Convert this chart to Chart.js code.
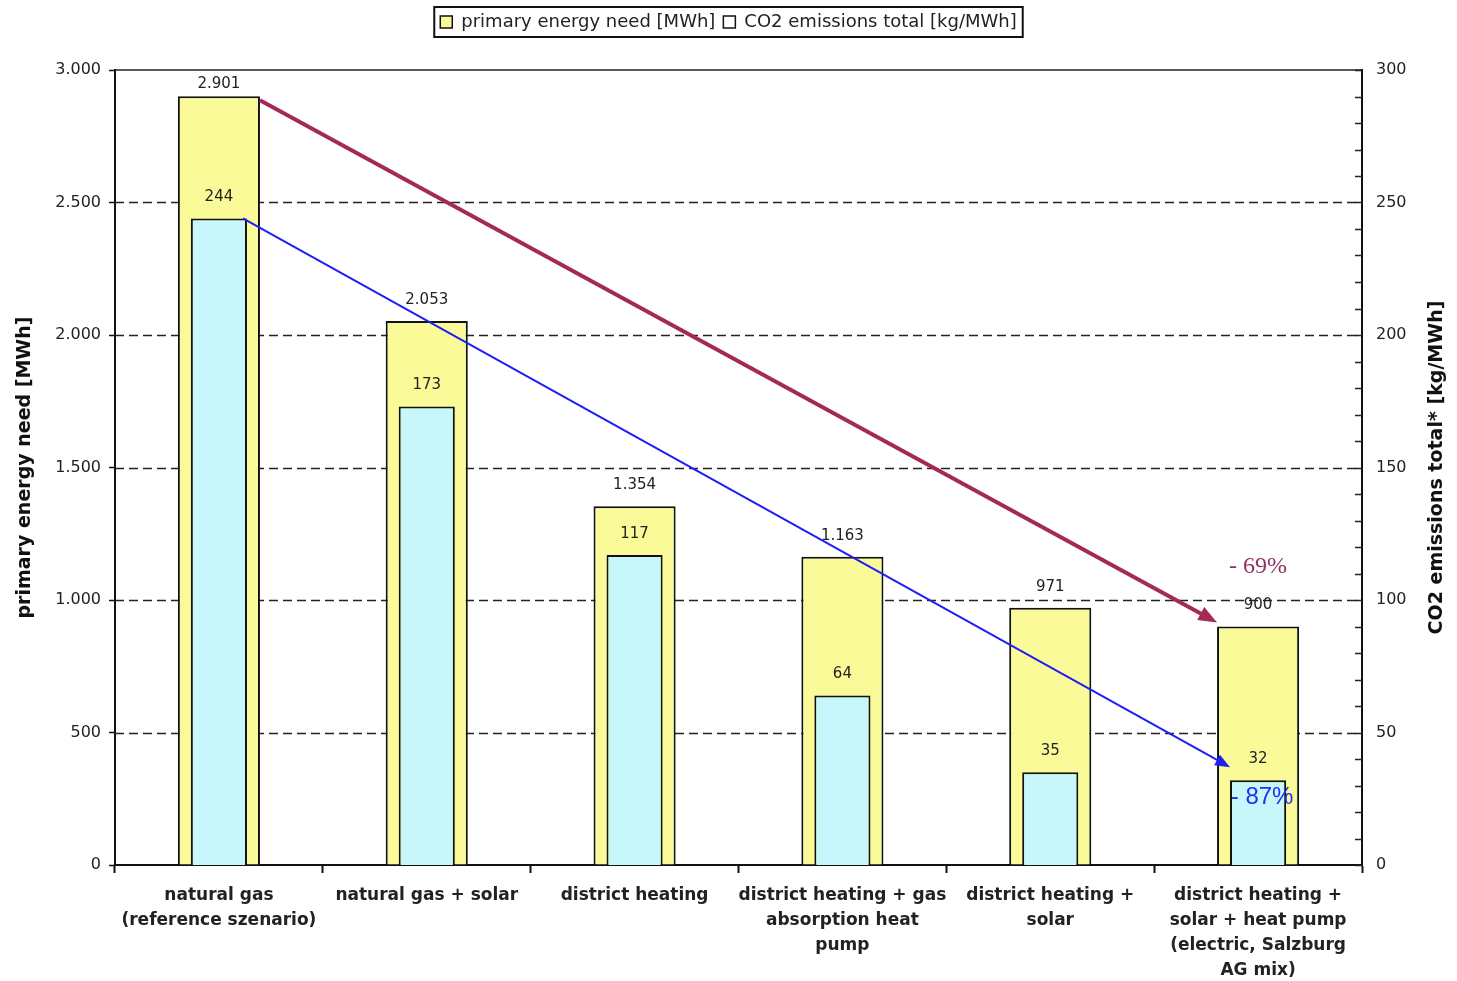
<!DOCTYPE html>
<html>
<head>
<meta charset="utf-8">
<script src="https://cdn.jsdelivr.net/npm/chart.js@4.4.0/dist/chart.umd.min.js"></script>
<style>
  body { margin: 0; background: #fff; }
  #grafica { display: block; }
</style>
</head>
<body>
<canvas id="grafica" width="1457" height="981"></canvas>
<script>
// datos de la grafica
var categorias = [
  ['natural gas', '(reference szenario)'],
  ['natural gas + solar'],
  ['district heating'],
  ['district heating + gas', 'absorption heat', 'pump'],
  ['district heating +', 'solar'],
  ['district heating +', 'solar + heat pump', '(electric, Salzburg', 'AG mix)']
]
var energia_primaria = [2901, 2053, 1354, 1163, 971, 900]
var emisiones_co2 = [244, 173, 117, 64, 35, 32]
var nombres_series = ['primary energy need [MWh]', 'CO2 emissions total [kg/MWh]']
var titulo_izq = 'primary energy need [MWh]'
var titulo_der = 'CO2 emissions total* [kg/MWh]'
var reduccion_energia = '- 69%'
var reduccion_co2 = '- 87%'

var fuente = '"DejaVu Sans", Verdana, sans-serif'

function formato_miles(v) {
  return String(v).replace(/\B(?=(\d{3})+(?!\d))/g, '.')
}

function flecha(ctx, x1, y1, x2, y2, color, ancho, punta) {
  var ang = Math.atan2(y2 - y1, x2 - x1)
  ctx.save()
  ctx.strokeStyle = color
  ctx.fillStyle = color
  ctx.lineWidth = ancho
  ctx.beginPath()
  ctx.moveTo(x1, y1)
  ctx.lineTo(x2 - Math.cos(ang) * punta * 0.8, y2 - Math.sin(ang) * punta * 0.8)
  ctx.stroke()
  ctx.beginPath()
  ctx.moveTo(x2, y2)
  ctx.lineTo(x2 - punta * Math.cos(ang - 0.38), y2 - punta * Math.sin(ang - 0.38))
  ctx.lineTo(x2 - punta * Math.cos(ang + 0.38), y2 - punta * Math.sin(ang + 0.38))
  ctx.closePath()
  ctx.fill()
  ctx.restore()
}

var plugin_lineas = {
  id: 'lineas',
  beforeDatasetsDraw: function (chart) {
    var ctx = chart.ctx, area = chart.chartArea, y = chart.scales.y
    ctx.save()
    ctx.strokeStyle = '#222'
    ctx.lineWidth = 1.5
    ctx.setLineDash([9, 5])
    y.ticks.forEach(function (t) {
      if (t.value <= y.min || t.value >= y.max) return
      var py = Math.round(y.getPixelForValue(t.value)) + 0.5
      ctx.beginPath()
      ctx.moveTo(area.left, py)
      ctx.lineTo(area.right, py)
      ctx.stroke()
    })
    ctx.restore()
  },
  afterDraw: function (chart) {
    var ctx = chart.ctx, area = chart.chartArea
    var y2 = chart.scales.y2
    ctx.save()
    // borde superior
    ctx.strokeStyle = '#222'
    ctx.lineWidth = 1.5
    ctx.beginPath()
    ctx.moveTo(area.left, area.top)
    ctx.lineTo(area.right, area.top)
    ctx.stroke()
    // marcas menores eje derecho, hacia dentro
    y2.ticks.forEach(function (t) {
      var py = Math.round(y2.getPixelForValue(t.value)) + 0.5
      ctx.beginPath()
      ctx.moveTo(area.right - 7, py)
      ctx.lineTo(area.right, py)
      ctx.stroke()
    })

    var m0 = chart.getDatasetMeta(0).data
    var m1 = chart.getDatasetMeta(1).data
    // flechas
    var a = m0[0], b = m0[m0.length - 1]
    flecha(ctx, a.x + a.width / 2, a.y + 4, b.x - b.width / 2, b.y - 4, '#a32a55', 4, 20)
    var c = m1[0], d = m1[m1.length - 1]
    flecha(ctx, c.x + c.width / 2 - 4, c.y, d.x - d.width / 2, d.y - 13, '#1f1ff5', 2, 16)

    // valores
    ctx.font = '15px ' + fuente
    ctx.fillStyle = '#222'
    ctx.textAlign = 'center'
    ctx.textBaseline = 'middle'
    m0.forEach(function (el, i) {
      var ty = Math.max(el.y - 21, area.top + 14)
      ctx.fillText(formato_miles(energia_primaria[i]), el.x, ty)
    })
    m1.forEach(function (el, i) {
      ctx.fillText(formato_miles(emisiones_co2[i]), el.x, el.y - 21)
    })

    // porcentajes
    ctx.font = '24px "Liberation Serif", "Times New Roman", serif'
    ctx.fillStyle = '#8e3466'
    ctx.fillText(reduccion_energia, b.x, b.y - 60)
    ctx.font = '24px "Liberation Sans", Arial, sans-serif'
    ctx.fillStyle = '#2030f0'
    ctx.fillText(reduccion_co2, d.x + 4, d.y + 17)

    // titulos de ejes
    ctx.font = 'bold 19px ' + fuente
    ctx.fillStyle = '#111'
    var cy = (area.top + area.bottom) / 2
    ctx.save()
    ctx.translate(25, cy)
    ctx.rotate(-Math.PI / 2)
    ctx.fillText(titulo_izq, 0, 0)
    ctx.restore()
    ctx.save()
    ctx.translate(1437, cy)
    ctx.rotate(-Math.PI / 2)
    ctx.fillText(titulo_der, 0, 0)
    ctx.restore()

    // borde de la leyenda
    var cajas = chart.legend.legendHitBoxes
    if (cajas && cajas.length) {
      var x0 = Infinity, x1 = -Infinity, yy0 = Infinity, yy1 = -Infinity
      cajas.forEach(function (h) {
        x0 = Math.min(x0, h.left); x1 = Math.max(x1, h.left + h.width)
        yy0 = Math.min(yy0, h.top); yy1 = Math.max(yy1, h.top + h.height)
      })
      ctx.lineWidth = 2
      ctx.strokeStyle = '#111'
      ctx.strokeRect(x0 - 6, yy0 - 6, x1 - x0 + 12, yy1 - yy0 + 12)
    }
    ctx.restore()
  }
}

var canva = document.getElementById('grafica')
var grafica = new Chart(canva, {
  type: 'bar',
  data: {
    labels: categorias,
    datasets: [{
      label: nombres_series[0],
      data: energia_primaria,
      yAxisID: 'y',
      backgroundColor: '#fbfa98',
      borderColor: '#111',
      borderWidth: 2,
      grouped: false,
      categoryPercentage: 1,
      barPercentage: 0.395,
      order: 2
    }, {
      label: nombres_series[1],
      data: emisiones_co2,
      yAxisID: 'y2',
      backgroundColor: '#c8f7fb',
      borderColor: '#111',
      borderWidth: 2,
      grouped: false,
      categoryPercentage: 1,
      barPercentage: 0.27,
      order: 1
    }]
  },
  options: {
    responsive: false,
    animation: false,
    layout: { padding: { top: 5, left: 0, right: 0, bottom: 0 } },
    plugins: {
      tooltip: { enabled: false },
      // espacio vacio entre leyenda y grafica
      title: { display: true, text: '', weight: 500, font: { size: 10, lineHeight: 1 }, padding: { top: 0, bottom: 19 } },
      legend: {
        display: true,
        position: 'top',
        labels: {
          font: { size: 18, family: fuente },
          color: '#222',
          boxWidth: 12,
          boxHeight: 12,
          padding: 8,
          sort: function (p, q) { return p.datasetIndex - q.datasetIndex },
          generateLabels: function (chart) {
            var items = Chart.defaults.plugins.legend.labels.generateLabels(chart)
            items.forEach(function (it) {
              it.fillStyle = it.datasetIndex === 0 ? '#fbfa98' : '#ffffff'
              it.strokeStyle = '#111'
              it.lineWidth = 1.5
            })
            return items
          }
        }
      }
    },
    scales: {
      x: {
        grid: { display: true, drawOnChartArea: false, offset: true, tickLength: 8, tickColor: '#111', tickWidth: 2 },
        border: { display: true, color: '#111', width: 2 },
        ticks: {
          autoSkip: false,
          maxRotation: 0,
          padding: 10,
          color: '#222',
          font: { size: 17, weight: 'bold', family: fuente, lineHeight: 1.47 }
        },
        afterFit: function (s) { s.height = 116 }
      },
      y: {
        position: 'left',
        min: 0, max: 3000,
        ticks: {
          stepSize: 500,
          padding: 8,
          color: '#222',
          font: { size: 16, family: fuente },
          callback: function (v) { return formato_miles(v) }
        },
        grid: { display: true, drawOnChartArea: false, tickLength: 6, tickColor: '#111', tickWidth: 1.5 },
        border: { display: true, color: '#111', width: 2 },
        afterFit: function (s) { s.width = 115 }
      },
      y2: {
        position: 'right',
        min: 0, max: 300,
        ticks: {
          stepSize: 10,
          autoSkip: false,
          padding: 14,
          color: '#222',
          font: { size: 16, family: fuente },
          callback: function (v) { return v % 50 === 0 ? String(v) : '' }
        },
        grid: { display: false, drawTicks: false },
        border: { display: true, color: '#111', width: 2 },
        afterFit: function (s) { s.width = 95 }
      }
    }
  },
  plugins: [plugin_lineas]
})
</script>
</body>
</html>
